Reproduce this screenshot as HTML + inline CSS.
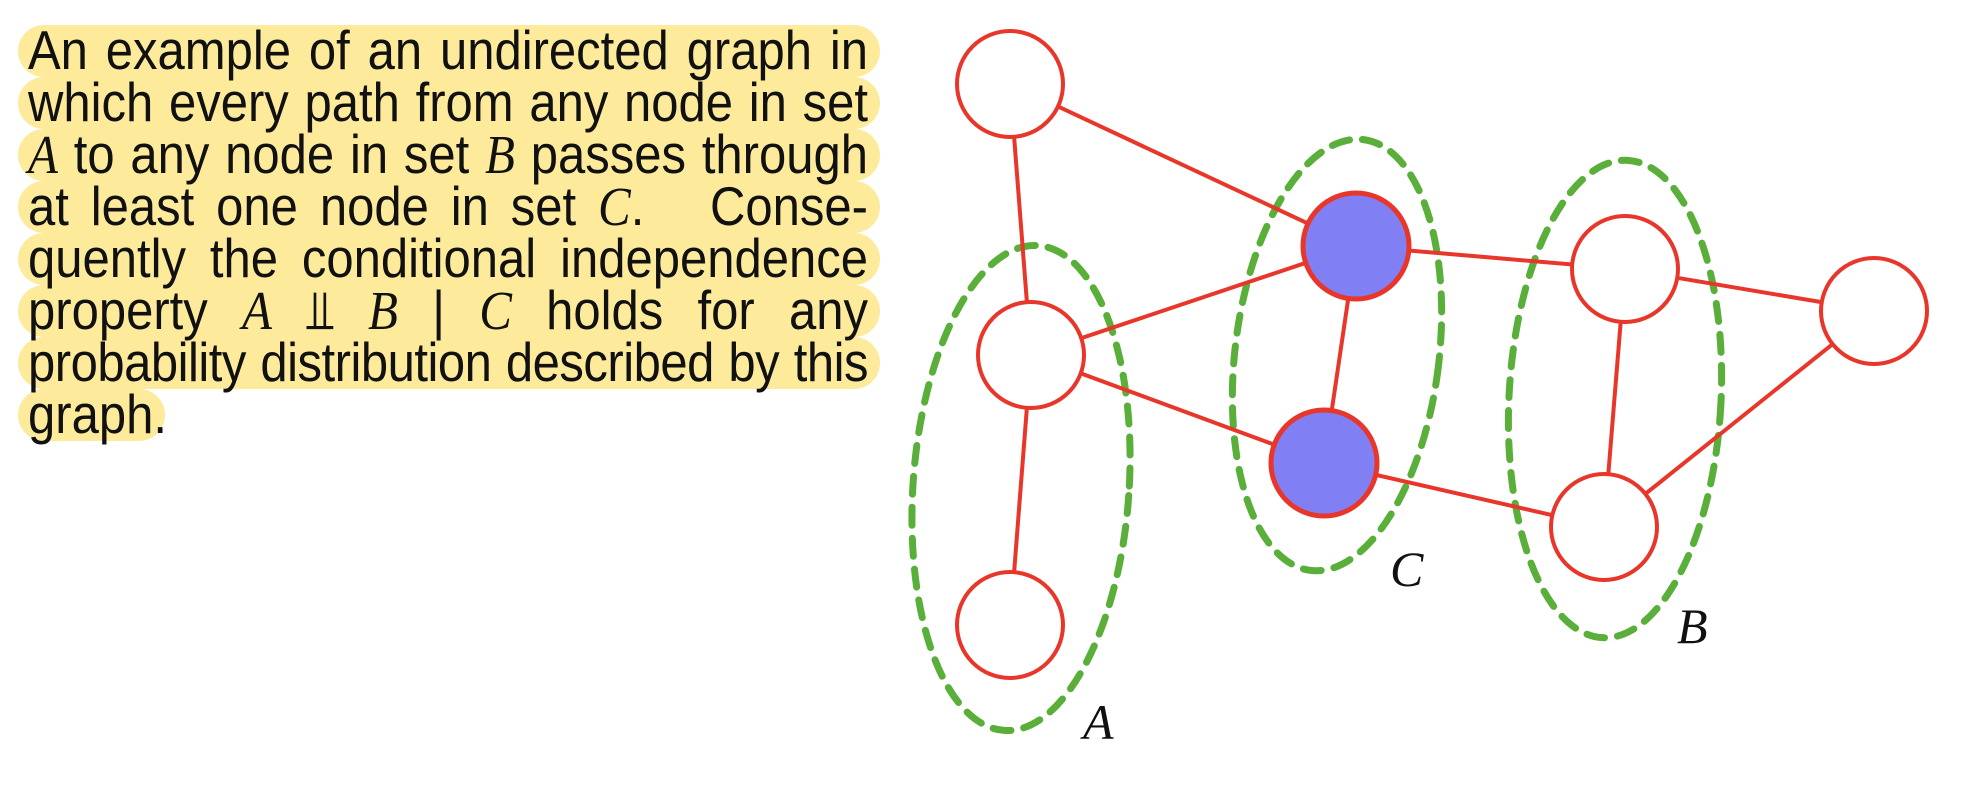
<!DOCTYPE html>
<html><head><meta charset="utf-8"><style>
html,body{margin:0;padding:0;background:#fff;width:1968px;height:810px;overflow:hidden}
.t{position:absolute;left:18px;width:862px;font-family:"Liberation Sans",sans-serif;font-size:49px;color:#111;}
.l{height:52px;line-height:52px;background:#fdea9b;border-radius:26px;padding:0 12px 0 10px;white-space:nowrap;overflow:visible}
.l span.j{display:block;text-align:justify;text-align-last:justify;white-space:normal;word-spacing:-2px;transform:scaleY(1.12)}
.m{font-family:"Liberation Serif",serif;font-style:italic}
</style></head><body>
<div class="t" style="top:25px">
<div class="l"><span class="j">An example of an undirected graph in</span></div>
<div class="l"><span class="j">which every path from any node in set</span></div>
<div class="l"><span class="j"><span class="m">A</span> to any node in set <span class="m">B</span> passes through</span></div>
<div class="l"><span class="j">at least one node in set <span class="m">C</span>. &nbsp; Conse-</span></div>
<div class="l"><span class="j">quently the conditional independence</span></div>
<div class="l"><span class="j">property <span class="m">A</span> <span style="font-family:'DejaVu Sans',sans-serif">⫫</span> <span class="m">B</span> | <span class="m">C</span> holds for any</span></div>
<div class="l"><span class="j" style="letter-spacing:-0.5px">probability distribution described by this</span></div>
<div class="l" style="width:125px"><span style="display:inline-block;transform:scaleY(1.12)">graph.</span></div>
</div>
<svg width="1968" height="810" style="position:absolute;left:0;top:0">
<g fill="none" stroke="#5aaf3a" stroke-width="7" stroke-dasharray="18 13" stroke-linecap="round">
<ellipse cx="1021" cy="488" rx="108" ry="243" transform="rotate(4 1021 488)"/>
<ellipse cx="1337" cy="355" rx="102" ry="217" transform="rotate(7 1337 355)"/>
<ellipse cx="1615" cy="399" rx="106" ry="239" transform="rotate(3 1615 399)"/>
</g>
<g stroke="#e8362a" stroke-width="4">
<line x1="1010" y1="84" x2="1031" y2="355"/>
<line x1="1010" y1="84" x2="1356" y2="246"/>
<line x1="1031" y1="355" x2="1356" y2="246"/>
<line x1="1031" y1="355" x2="1324" y2="463"/>
<line x1="1031" y1="355" x2="1010" y2="625"/>
<line x1="1356" y1="246" x2="1324" y2="463"/>
<line x1="1356" y1="246" x2="1625" y2="269"/>
<line x1="1324" y1="463" x2="1604" y2="527"/>
<line x1="1625" y1="269" x2="1874" y2="311"/>
<line x1="1625" y1="269" x2="1604" y2="527"/>
<line x1="1604" y1="527" x2="1874" y2="311"/>
</g>
<g stroke="#e8362a" stroke-width="4" fill="#fff">
<circle cx="1010" cy="84" r="53"/>
<circle cx="1031" cy="355" r="53"/>
<circle cx="1010" cy="625" r="53"/>
<circle cx="1625" cy="269" r="53"/>
<circle cx="1604" cy="527" r="53"/>
<circle cx="1874" cy="311" r="53"/>
<circle cx="1356" cy="246" r="53" fill="#8080f4" stroke-width="5"/>
<circle cx="1324" cy="463" r="53" fill="#8080f4" stroke-width="5"/>
</g>
<g font-family="Liberation Serif, serif" font-style="italic" font-size="50" fill="#111">
<text x="1390" y="586">C</text>
<text x="1677" y="643">B</text>
<text x="1083" y="739">A</text>
</g>
</svg>
</body></html>
